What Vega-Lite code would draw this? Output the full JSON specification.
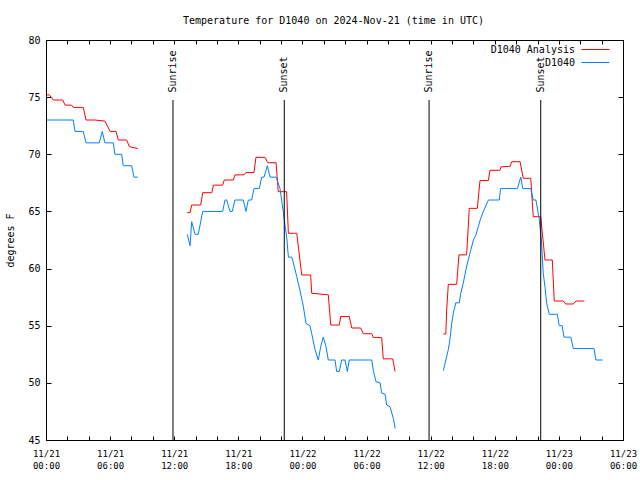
{
  "$schema": "https://vega.github.io/schema/vega-lite/v6.json",
  "width": 577,
  "height": 400,
  "autosize": {"type": "none"},
  "padding": {"left": 46, "top": 40, "right": 17, "bottom": 40},
  "background": "white",
  "title": {"text": "Temperature for D1040 on 2024-Nov-21 (time in UTC)", "font": "DejaVu Sans Mono", "fontSize": 10, "fontWeight": "normal", "color": "black", "offset": 9, "dx": -1},
  "config": {
    "view": {"stroke": "black", "strokeWidth": 1},
    "font": "DejaVu Sans Mono",
    "axis": {"grid": false, "ticks": true, "zindex": 1, "domainColor": "black", "tickColor": "black", "tickWidth": 1, "tickOpacity": 1, "labelColor": "black", "titleColor": "black", "labelFont": "DejaVu Sans Mono", "titleFont": "DejaVu Sans Mono", "titleFontWeight": "normal", "labelFontSize": 10, "titleFontSize": 10}
  },
  "datasets": {
    "sun": [
      {"time": "2024-11-21T11:53:00Z", "label": "Sunrise"},
      {"time": "2024-11-21T22:18:00Z", "label": "Sunset"},
      {"time": "2024-11-22T11:51:00Z", "label": "Sunrise"},
      {"time": "2024-11-22T22:18:00Z", "label": "Sunset"}
    ],
    "temps": [
      {"series": "D1040 Analysis", "seg": "a1", "time": "2024-11-21T00:04:00Z", "temp": 75.2},
      {"series": "D1040 Analysis", "seg": "a1", "time": "2024-11-21T00:19:00Z", "temp": 75.2},
      {"series": "D1040 Analysis", "seg": "a1", "time": "2024-11-21T00:41:00Z", "temp": 74.75},
      {"series": "D1040 Analysis", "seg": "a1", "time": "2024-11-21T01:34:00Z", "temp": 74.75},
      {"series": "D1040 Analysis", "seg": "a1", "time": "2024-11-21T01:47:00Z", "temp": 74.3},
      {"series": "D1040 Analysis", "seg": "a1", "time": "2024-11-21T02:24:00Z", "temp": 74.3},
      {"series": "D1040 Analysis", "seg": "a1", "time": "2024-11-21T02:33:00Z", "temp": 74.1},
      {"series": "D1040 Analysis", "seg": "a1", "time": "2024-11-21T03:29:00Z", "temp": 74.1},
      {"series": "D1040 Analysis", "seg": "a1", "time": "2024-11-21T03:45:00Z", "temp": 73.0},
      {"series": "D1040 Analysis", "seg": "a1", "time": "2024-11-21T04:35:00Z", "temp": 73.0},
      {"series": "D1040 Analysis", "seg": "a1", "time": "2024-11-21T05:31:00Z", "temp": 72.9},
      {"series": "D1040 Analysis", "seg": "a1", "time": "2024-11-21T06:00:00Z", "temp": 72.0},
      {"series": "D1040 Analysis", "seg": "a1", "time": "2024-11-21T06:33:00Z", "temp": 72.0},
      {"series": "D1040 Analysis", "seg": "a1", "time": "2024-11-21T06:46:00Z", "temp": 71.25},
      {"series": "D1040 Analysis", "seg": "a1", "time": "2024-11-21T07:33:00Z", "temp": 71.25},
      {"series": "D1040 Analysis", "seg": "a1", "time": "2024-11-21T07:48:00Z", "temp": 70.67},
      {"series": "D1040 Analysis", "seg": "a1", "time": "2024-11-21T08:35:00Z", "temp": 70.5},

      {"series": "D1040", "seg": "b1", "time": "2024-11-21T00:04:00Z", "temp": 73},
      {"series": "D1040", "seg": "b1", "time": "2024-11-21T02:33:00Z", "temp": 73},
      {"series": "D1040", "seg": "b1", "time": "2024-11-21T02:43:00Z", "temp": 72},
      {"series": "D1040", "seg": "b1", "time": "2024-11-21T03:29:00Z", "temp": 72},
      {"series": "D1040", "seg": "b1", "time": "2024-11-21T03:45:00Z", "temp": 71},
      {"series": "D1040", "seg": "b1", "time": "2024-11-21T04:59:00Z", "temp": 71},
      {"series": "D1040", "seg": "b1", "time": "2024-11-21T05:16:00Z", "temp": 72},
      {"series": "D1040", "seg": "b1", "time": "2024-11-21T05:31:00Z", "temp": 71},
      {"series": "D1040", "seg": "b1", "time": "2024-11-21T06:18:00Z", "temp": 71},
      {"series": "D1040", "seg": "b1", "time": "2024-11-21T06:27:00Z", "temp": 70},
      {"series": "D1040", "seg": "b1", "time": "2024-11-21T07:05:00Z", "temp": 70},
      {"series": "D1040", "seg": "b1", "time": "2024-11-21T07:14:00Z", "temp": 69},
      {"series": "D1040", "seg": "b1", "time": "2024-11-21T08:01:00Z", "temp": 69},
      {"series": "D1040", "seg": "b1", "time": "2024-11-21T08:14:00Z", "temp": 68},
      {"series": "D1040", "seg": "b1", "time": "2024-11-21T08:35:00Z", "temp": 68},

      {"series": "D1040 Analysis", "seg": "a2", "time": "2024-11-21T13:13:00Z", "temp": 64.9},
      {"series": "D1040 Analysis", "seg": "a2", "time": "2024-11-21T13:29:00Z", "temp": 64.9},
      {"series": "D1040 Analysis", "seg": "a2", "time": "2024-11-21T13:38:00Z", "temp": 65.56},
      {"series": "D1040 Analysis", "seg": "a2", "time": "2024-11-21T14:29:00Z", "temp": 65.56},
      {"series": "D1040 Analysis", "seg": "a2", "time": "2024-11-21T14:40:00Z", "temp": 66.64},
      {"series": "D1040 Analysis", "seg": "a2", "time": "2024-11-21T15:31:00Z", "temp": 66.64},
      {"series": "D1040 Analysis", "seg": "a2", "time": "2024-11-21T15:40:00Z", "temp": 67.3},
      {"series": "D1040 Analysis", "seg": "a2", "time": "2024-11-21T16:32:00Z", "temp": 67.3},
      {"series": "D1040 Analysis", "seg": "a2", "time": "2024-11-21T16:41:00Z", "temp": 67.75},
      {"series": "D1040 Analysis", "seg": "a2", "time": "2024-11-21T17:32:00Z", "temp": 67.75},
      {"series": "D1040 Analysis", "seg": "a2", "time": "2024-11-21T17:41:00Z", "temp": 68.2},
      {"series": "D1040 Analysis", "seg": "a2", "time": "2024-11-21T18:32:00Z", "temp": 68.2},
      {"series": "D1040 Analysis", "seg": "a2", "time": "2024-11-21T18:43:00Z", "temp": 68.4},
      {"series": "D1040 Analysis", "seg": "a2", "time": "2024-11-21T19:28:00Z", "temp": 68.4},
      {"series": "D1040 Analysis", "seg": "a2", "time": "2024-11-21T19:39:00Z", "temp": 69.73},
      {"series": "D1040 Analysis", "seg": "a2", "time": "2024-11-21T20:30:00Z", "temp": 69.73},
      {"series": "D1040 Analysis", "seg": "a2", "time": "2024-11-21T20:45:00Z", "temp": 69.26},
      {"series": "D1040 Analysis", "seg": "a2", "time": "2024-11-21T21:32:00Z", "temp": 69.26},
      {"series": "D1040 Analysis", "seg": "a2", "time": "2024-11-21T21:44:00Z", "temp": 66.73},
      {"series": "D1040 Analysis", "seg": "a2", "time": "2024-11-21T22:31:00Z", "temp": 66.73},
      {"series": "D1040 Analysis", "seg": "a2", "time": "2024-11-21T22:41:00Z", "temp": 63.09},
      {"series": "D1040 Analysis", "seg": "a2", "time": "2024-11-21T23:28:00Z", "temp": 63.09},
      {"series": "D1040 Analysis", "seg": "a2", "time": "2024-11-21T23:56:00Z", "temp": 59.44},
      {"series": "D1040 Analysis", "seg": "a2", "time": "2024-11-22T00:46:00Z", "temp": 59.44},
      {"series": "D1040 Analysis", "seg": "a2", "time": "2024-11-22T00:52:00Z", "temp": 57.84},
      {"series": "D1040 Analysis", "seg": "a2", "time": "2024-11-22T02:25:00Z", "temp": 57.7},
      {"series": "D1040 Analysis", "seg": "a2", "time": "2024-11-22T02:39:00Z", "temp": 55.06},
      {"series": "D1040 Analysis", "seg": "a2", "time": "2024-11-22T03:27:00Z", "temp": 55.06},
      {"series": "D1040 Analysis", "seg": "a2", "time": "2024-11-22T03:35:00Z", "temp": 55.8},
      {"series": "D1040 Analysis", "seg": "a2", "time": "2024-11-22T04:23:00Z", "temp": 55.8},
      {"series": "D1040 Analysis", "seg": "a2", "time": "2024-11-22T04:37:00Z", "temp": 54.8},
      {"series": "D1040 Analysis", "seg": "a2", "time": "2024-11-22T05:27:00Z", "temp": 54.8},
      {"series": "D1040 Analysis", "seg": "a2", "time": "2024-11-22T05:42:00Z", "temp": 54.3},
      {"series": "D1040 Analysis", "seg": "a2", "time": "2024-11-22T06:29:00Z", "temp": 54.3},
      {"series": "D1040 Analysis", "seg": "a2", "time": "2024-11-22T06:38:00Z", "temp": 53.96},
      {"series": "D1040 Analysis", "seg": "a2", "time": "2024-11-22T07:25:00Z", "temp": 53.96},
      {"series": "D1040 Analysis", "seg": "a2", "time": "2024-11-22T07:34:00Z", "temp": 52.1},
      {"series": "D1040 Analysis", "seg": "a2", "time": "2024-11-22T08:27:00Z", "temp": 52.1},
      {"series": "D1040 Analysis", "seg": "a2", "time": "2024-11-22T08:40:00Z", "temp": 51.0},

      {"series": "D1040", "seg": "b2", "time": "2024-11-21T13:13:00Z", "temp": 63.0},
      {"series": "D1040", "seg": "b2", "time": "2024-11-21T13:29:00Z", "temp": 62.0},
      {"series": "D1040", "seg": "b2", "time": "2024-11-21T13:38:00Z", "temp": 64.1},
      {"series": "D1040", "seg": "b2", "time": "2024-11-21T13:57:00Z", "temp": 63.0},
      {"series": "D1040", "seg": "b2", "time": "2024-11-21T14:15:00Z", "temp": 63.0},
      {"series": "D1040", "seg": "b2", "time": "2024-11-21T14:40:00Z", "temp": 65},
      {"series": "D1040", "seg": "b2", "time": "2024-11-21T16:32:00Z", "temp": 65},
      {"series": "D1040", "seg": "b2", "time": "2024-11-21T16:45:00Z", "temp": 66},
      {"series": "D1040", "seg": "b2", "time": "2024-11-21T16:55:00Z", "temp": 66},
      {"series": "D1040", "seg": "b2", "time": "2024-11-21T17:13:00Z", "temp": 65},
      {"series": "D1040", "seg": "b2", "time": "2024-11-21T17:26:00Z", "temp": 65},
      {"series": "D1040", "seg": "b2", "time": "2024-11-21T17:41:00Z", "temp": 66},
      {"series": "D1040", "seg": "b2", "time": "2024-11-21T18:28:00Z", "temp": 66},
      {"series": "D1040", "seg": "b2", "time": "2024-11-21T18:43:00Z", "temp": 65},
      {"series": "D1040", "seg": "b2", "time": "2024-11-21T18:56:00Z", "temp": 66},
      {"series": "D1040", "seg": "b2", "time": "2024-11-21T19:15:00Z", "temp": 66},
      {"series": "D1040", "seg": "b2", "time": "2024-11-21T19:28:00Z", "temp": 67},
      {"series": "D1040", "seg": "b2", "time": "2024-11-21T19:58:00Z", "temp": 67},
      {"series": "D1040", "seg": "b2", "time": "2024-11-21T20:11:00Z", "temp": 68},
      {"series": "D1040", "seg": "b2", "time": "2024-11-21T20:24:00Z", "temp": 68},
      {"series": "D1040", "seg": "b2", "time": "2024-11-21T20:43:00Z", "temp": 69},
      {"series": "D1040", "seg": "b2", "time": "2024-11-21T20:58:00Z", "temp": 68},
      {"series": "D1040", "seg": "b2", "time": "2024-11-21T21:32:00Z", "temp": 68},
      {"series": "D1040", "seg": "b2", "time": "2024-11-21T21:54:00Z", "temp": 67},
      {"series": "D1040", "seg": "b2", "time": "2024-11-21T22:03:00Z", "temp": 66},
      {"series": "D1040", "seg": "b2", "time": "2024-11-21T22:13:00Z", "temp": 64.9},
      {"series": "D1040", "seg": "b2", "time": "2024-11-21T22:22:00Z", "temp": 63.8},
      {"series": "D1040", "seg": "b2", "time": "2024-11-21T22:32:00Z", "temp": 62.7},
      {"series": "D1040", "seg": "b2", "time": "2024-11-21T22:41:00Z", "temp": 61},
      {"series": "D1040", "seg": "b2", "time": "2024-11-21T23:00:00Z", "temp": 61},
      {"series": "D1040", "seg": "b2", "time": "2024-11-21T23:09:00Z", "temp": 60.5},
      {"series": "D1040", "seg": "b2", "time": "2024-11-21T23:28:00Z", "temp": 59.3},
      {"series": "D1040", "seg": "b2", "time": "2024-11-21T23:46:00Z", "temp": 58.1},
      {"series": "D1040", "seg": "b2", "time": "2024-11-22T00:05:00Z", "temp": 56.7},
      {"series": "D1040", "seg": "b2", "time": "2024-11-22T00:20:00Z", "temp": 55.2},
      {"series": "D1040", "seg": "b2", "time": "2024-11-22T00:42:00Z", "temp": 55},
      {"series": "D1040", "seg": "b2", "time": "2024-11-22T00:52:00Z", "temp": 54.3},
      {"series": "D1040", "seg": "b2", "time": "2024-11-22T01:11:00Z", "temp": 52.9},
      {"series": "D1040", "seg": "b2", "time": "2024-11-22T01:29:00Z", "temp": 52},
      {"series": "D1040", "seg": "b2", "time": "2024-11-22T01:43:00Z", "temp": 53.2},
      {"series": "D1040", "seg": "b2", "time": "2024-11-22T01:57:00Z", "temp": 54},
      {"series": "D1040", "seg": "b2", "time": "2024-11-22T02:12:00Z", "temp": 53.2},
      {"series": "D1040", "seg": "b2", "time": "2024-11-22T02:25:00Z", "temp": 52},
      {"series": "D1040", "seg": "b2", "time": "2024-11-22T03:03:00Z", "temp": 52},
      {"series": "D1040", "seg": "b2", "time": "2024-11-22T03:12:00Z", "temp": 51},
      {"series": "D1040", "seg": "b2", "time": "2024-11-22T03:27:00Z", "temp": 51},
      {"series": "D1040", "seg": "b2", "time": "2024-11-22T03:40:00Z", "temp": 52},
      {"series": "D1040", "seg": "b2", "time": "2024-11-22T03:59:00Z", "temp": 52},
      {"series": "D1040", "seg": "b2", "time": "2024-11-22T04:12:00Z", "temp": 51},
      {"series": "D1040", "seg": "b2", "time": "2024-11-22T04:23:00Z", "temp": 52},
      {"series": "D1040", "seg": "b2", "time": "2024-11-22T06:29:00Z", "temp": 52},
      {"series": "D1040", "seg": "b2", "time": "2024-11-22T06:38:00Z", "temp": 51.1},
      {"series": "D1040", "seg": "b2", "time": "2024-11-22T06:53:00Z", "temp": 50.1},
      {"series": "D1040", "seg": "b2", "time": "2024-11-22T07:16:00Z", "temp": 50},
      {"series": "D1040", "seg": "b2", "time": "2024-11-22T07:25:00Z", "temp": 49.1},
      {"series": "D1040", "seg": "b2", "time": "2024-11-22T07:44:00Z", "temp": 49},
      {"series": "D1040", "seg": "b2", "time": "2024-11-22T07:53:00Z", "temp": 48.06},
      {"series": "D1040", "seg": "b2", "time": "2024-11-22T08:12:00Z", "temp": 47.9},
      {"series": "D1040", "seg": "b2", "time": "2024-11-22T08:30:00Z", "temp": 46.9},
      {"series": "D1040", "seg": "b2", "time": "2024-11-22T08:41:00Z", "temp": 46.0},

      {"series": "D1040 Analysis", "seg": "a3", "time": "2024-11-22T13:11:00Z", "temp": 54.28},
      {"series": "D1040 Analysis", "seg": "a3", "time": "2024-11-22T13:25:00Z", "temp": 54.28},
      {"series": "D1040 Analysis", "seg": "a3", "time": "2024-11-22T13:30:00Z", "temp": 56.4},
      {"series": "D1040 Analysis", "seg": "a3", "time": "2024-11-22T13:39:00Z", "temp": 58.62},
      {"series": "D1040 Analysis", "seg": "a3", "time": "2024-11-22T14:26:00Z", "temp": 58.62},
      {"series": "D1040 Analysis", "seg": "a3", "time": "2024-11-22T14:39:00Z", "temp": 61.2},
      {"series": "D1040 Analysis", "seg": "a3", "time": "2024-11-22T15:22:00Z", "temp": 61.2},
      {"series": "D1040 Analysis", "seg": "a3", "time": "2024-11-22T15:37:00Z", "temp": 65.27},
      {"series": "D1040 Analysis", "seg": "a3", "time": "2024-11-22T16:22:00Z", "temp": 65.27},
      {"series": "D1040 Analysis", "seg": "a3", "time": "2024-11-22T16:37:00Z", "temp": 67.7},
      {"series": "D1040 Analysis", "seg": "a3", "time": "2024-11-22T17:24:00Z", "temp": 67.7},
      {"series": "D1040 Analysis", "seg": "a3", "time": "2024-11-22T17:33:00Z", "temp": 68.6},
      {"series": "D1040 Analysis", "seg": "a3", "time": "2024-11-22T18:29:00Z", "temp": 68.6},
      {"series": "D1040 Analysis", "seg": "a3", "time": "2024-11-22T18:35:00Z", "temp": 68.9},
      {"series": "D1040 Analysis", "seg": "a3", "time": "2024-11-22T19:26:00Z", "temp": 68.95},
      {"series": "D1040 Analysis", "seg": "a3", "time": "2024-11-22T19:35:00Z", "temp": 69.35},
      {"series": "D1040 Analysis", "seg": "a3", "time": "2024-11-22T20:22:00Z", "temp": 69.35},
      {"series": "D1040 Analysis", "seg": "a3", "time": "2024-11-22T20:40:00Z", "temp": 67.9},
      {"series": "D1040 Analysis", "seg": "a3", "time": "2024-11-22T21:22:00Z", "temp": 67.9},
      {"series": "D1040 Analysis", "seg": "a3", "time": "2024-11-22T21:36:00Z", "temp": 64.54},
      {"series": "D1040 Analysis", "seg": "a3", "time": "2024-11-22T22:18:00Z", "temp": 64.54},
      {"series": "D1040 Analysis", "seg": "a3", "time": "2024-11-22T22:42:00Z", "temp": 60.75},
      {"series": "D1040 Analysis", "seg": "a3", "time": "2024-11-22T23:23:00Z", "temp": 60.75},
      {"series": "D1040 Analysis", "seg": "a3", "time": "2024-11-22T23:34:00Z", "temp": 57.16},
      {"series": "D1040 Analysis", "seg": "a3", "time": "2024-11-23T00:25:00Z", "temp": 57.16},
      {"series": "D1040 Analysis", "seg": "a3", "time": "2024-11-23T00:38:00Z", "temp": 56.9},
      {"series": "D1040 Analysis", "seg": "a3", "time": "2024-11-23T01:21:00Z", "temp": 56.9},
      {"series": "D1040 Analysis", "seg": "a3", "time": "2024-11-23T01:36:00Z", "temp": 57.16},
      {"series": "D1040 Analysis", "seg": "a3", "time": "2024-11-23T02:23:00Z", "temp": 57.16},

      {"series": "D1040", "seg": "b3", "time": "2024-11-22T13:11:00Z", "temp": 51.07},
      {"series": "D1040", "seg": "b3", "time": "2024-11-22T13:39:00Z", "temp": 52.9},
      {"series": "D1040", "seg": "b3", "time": "2024-11-22T13:49:00Z", "temp": 53.9},
      {"series": "D1040", "seg": "b3", "time": "2024-11-22T13:58:00Z", "temp": 55.2},
      {"series": "D1040", "seg": "b3", "time": "2024-11-22T14:07:00Z", "temp": 56.1},
      {"series": "D1040", "seg": "b3", "time": "2024-11-22T14:21:00Z", "temp": 57},
      {"series": "D1040", "seg": "b3", "time": "2024-11-22T14:41:00Z", "temp": 57},
      {"series": "D1040", "seg": "b3", "time": "2024-11-22T14:49:00Z", "temp": 57.84},
      {"series": "D1040", "seg": "b3", "time": "2024-11-22T15:03:00Z", "temp": 58.72},
      {"series": "D1040", "seg": "b3", "time": "2024-11-22T15:18:00Z", "temp": 59.9},
      {"series": "D1040", "seg": "b3", "time": "2024-11-22T15:31:00Z", "temp": 60.75},
      {"series": "D1040", "seg": "b3", "time": "2024-11-22T15:45:00Z", "temp": 61.6},
      {"series": "D1040", "seg": "b3", "time": "2024-11-22T16:00:00Z", "temp": 62.5},
      {"series": "D1040", "seg": "b3", "time": "2024-11-22T16:13:00Z", "temp": 62.9},
      {"series": "D1040", "seg": "b3", "time": "2024-11-22T16:28:00Z", "temp": 63.7},
      {"series": "D1040", "seg": "b3", "time": "2024-11-22T16:41:00Z", "temp": 64.4},
      {"series": "D1040", "seg": "b3", "time": "2024-11-22T16:56:00Z", "temp": 65},
      {"series": "D1040", "seg": "b3", "time": "2024-11-22T17:24:00Z", "temp": 66},
      {"series": "D1040", "seg": "b3", "time": "2024-11-22T18:25:00Z", "temp": 66},
      {"series": "D1040", "seg": "b3", "time": "2024-11-22T18:33:00Z", "temp": 67},
      {"series": "D1040", "seg": "b3", "time": "2024-11-22T20:07:00Z", "temp": 67},
      {"series": "D1040", "seg": "b3", "time": "2024-11-22T20:26:00Z", "temp": 68},
      {"series": "D1040", "seg": "b3", "time": "2024-11-22T20:37:00Z", "temp": 67},
      {"series": "D1040", "seg": "b3", "time": "2024-11-22T21:22:00Z", "temp": 67},
      {"series": "D1040", "seg": "b3", "time": "2024-11-22T21:36:00Z", "temp": 66},
      {"series": "D1040", "seg": "b3", "time": "2024-11-22T21:51:00Z", "temp": 66},
      {"series": "D1040", "seg": "b3", "time": "2024-11-22T22:10:00Z", "temp": 64.3},
      {"series": "D1040", "seg": "b3", "time": "2024-11-22T22:23:00Z", "temp": 62.2},
      {"series": "D1040", "seg": "b3", "time": "2024-11-22T22:32:00Z", "temp": 59.6},
      {"series": "D1040", "seg": "b3", "time": "2024-11-22T22:42:00Z", "temp": 58.4},
      {"series": "D1040", "seg": "b3", "time": "2024-11-22T22:51:00Z", "temp": 57},
      {"series": "D1040", "seg": "b3", "time": "2024-11-22T23:06:00Z", "temp": 56},
      {"series": "D1040", "seg": "b3", "time": "2024-11-22T23:51:00Z", "temp": 56},
      {"series": "D1040", "seg": "b3", "time": "2024-11-23T00:02:00Z", "temp": 55},
      {"series": "D1040", "seg": "b3", "time": "2024-11-23T00:18:00Z", "temp": 55},
      {"series": "D1040", "seg": "b3", "time": "2024-11-23T00:29:00Z", "temp": 54},
      {"series": "D1040", "seg": "b3", "time": "2024-11-23T01:07:00Z", "temp": 54},
      {"series": "D1040", "seg": "b3", "time": "2024-11-23T01:21:00Z", "temp": 53},
      {"series": "D1040", "seg": "b3", "time": "2024-11-23T03:17:00Z", "temp": 53},
      {"series": "D1040", "seg": "b3", "time": "2024-11-23T03:28:00Z", "temp": 52},
      {"series": "D1040", "seg": "b3", "time": "2024-11-23T04:06:00Z", "temp": 52}
    ]
  },
  "layer": [
    {
      "data": {"name": "temps"},
      "mark": {"type": "line", "strokeWidth": 1, "interpolate": "linear"},
      "encoding": {
        "x": {
          "field": "time", "type": "temporal",
          "scale": {"type": "utc", "nice": false, "domain": [1732147200000, 1732341600000]},
          "axis": {"orient": "bottom", "title": null, "values": [1732147200000, 1732154400000, 1732161600000, 1732168800000, 1732176000000, 1732183200000, 1732190400000, 1732197600000, 1732204800000, 1732212000000, 1732219200000, 1732226400000, 1732233600000, 1732240800000, 1732248000000, 1732255200000, 1732262400000, 1732269600000, 1732276800000, 1732284000000, 1732291200000, 1732298400000, 1732305600000, 1732312800000, 1732320000000, 1732327200000, 1732334400000, 1732341600000], "labelExpr": "utchours(datum.value) % 6 == 0 ? [utcFormat(datum.value, '%m/%d'), utcFormat(datum.value, '%H:%M')] : ''", "labelOverlap": false, "labelFlush": false, "tickSize": 4, "offset": -4, "labelPadding": 9, "labelFontSize": 9, "labelLineHeight": 12, "domain": false}
        },
        "y": {
          "field": "temp", "type": "quantitative",
          "scale": {"domain": [45, 80], "nice": false, "zero": false},
          "axis": {"orient": "left", "title": "degrees F", "values": [45, 50, 55, 60, 65, 70, 75, 80], "tickSize": 5, "offset": -5, "labelPadding": 6, "titlePadding": 12, "domain": false}
        },
        "color": {
          "field": "series", "type": "nominal",
          "scale": {"domain": ["D1040 Analysis", "D1040"], "range": ["#ff0000", "#0080ff"]},
          "legend": {"orient": "none", "legendX": 544, "legendY": 4, "title": null, "symbolType": "M-2.8,0H2.8", "symbolSize": 100, "symbolStrokeWidth": 1, "labelAlign": "right", "labelOffset": -26, "labelFont": "DejaVu Sans Mono", "labelFontSize": 10, "labelColor": "black", "rowPadding": 2, "padding": 0}
        },
        "detail": {"field": "seg"}
      }
    },
    {
      "data": {"name": "sun"},
      "mark": {"type": "rule", "color": "black", "strokeWidth": 1},
      "encoding": {
        "x": {"field": "time", "type": "temporal", "axis": {"orient": "top", "title": null, "labels": false, "values": [1732147200000, 1732154400000, 1732161600000, 1732168800000, 1732176000000, 1732183200000, 1732190400000, 1732197600000, 1732204800000, 1732212000000, 1732219200000, 1732226400000, 1732233600000, 1732240800000, 1732248000000, 1732255200000, 1732262400000, 1732269600000, 1732276800000, 1732284000000, 1732291200000, 1732298400000, 1732305600000, 1732312800000, 1732320000000, 1732327200000, 1732334400000, 1732341600000], "tickSize": 4, "offset": -4, "domain": false}},
        "y": {"datum": 45, "type": "quantitative", "axis": {"orient": "right", "title": null, "labels": false, "values": [45, 50, 55, 60, 65, 70, 75, 80], "tickSize": 5, "offset": -5, "domain": false}},
        "y2": {"datum": 74.75}
      }
    },
    {
      "data": {"name": "sun"},
      "mark": {"type": "text", "angle": 270, "align": "left", "baseline": "middle", "font": "DejaVu Sans Mono", "fontSize": 10, "color": "black"},
      "encoding": {
        "x": {"field": "time", "type": "temporal", "axis": null},
        "y": {"datum": 75.4, "type": "quantitative", "axis": null},
        "text": {"field": "label"}
      }
    }
  ]
}
